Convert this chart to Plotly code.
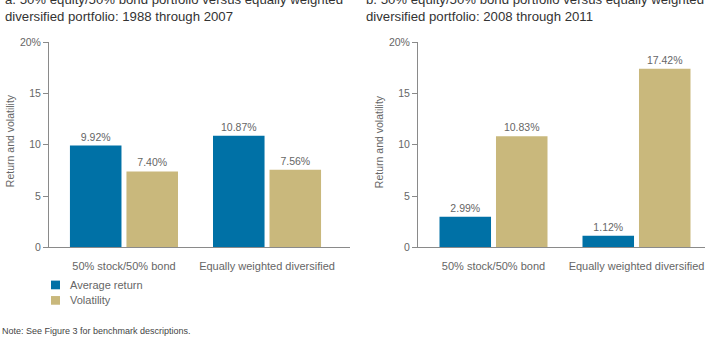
import plotly.graph_objects as go

categories = ["50% stock/50% bond", "Equally weighted diversified"]
series_names = ["Average return", "Volatility"]
return_a = [9.92, 10.87]
vol_a = [7.40, 7.56]
return_b = [2.99, 1.12]
vol_b = [10.83, 17.42]
yticks = [0, 5, 10, 15, 20]
yticklabels = ["0", "5", "10", "15", "20%"]

BLUE = "#0071A6"
TAN = "#C9B87C"
GRAY = "#666666"
AX = "#8a8a8a"
FONT = "Liberation Sans"
W, H = 710, 345

def px(x):
    return x / W

def py(y):
    return (H - y) / H

fig = go.Figure()

for vals, name, color, xa, ya in [
    (return_a, series_names[0], BLUE, "x", "y"),
    (vol_a, series_names[1], TAN, "x", "y"),
    (return_b, series_names[0], BLUE, "x2", "y2"),
    (vol_b, series_names[1], TAN, "x2", "y2"),
]:
    fig.add_trace(go.Bar(
        x=categories, y=vals, name=name, marker=dict(color=color, line=dict(width=0)),
        xaxis=xa, yaxis=ya, showlegend=False,
        text=[f"{v:.2f}%" for v in vals], textposition="outside",
        textfont=dict(size=10.5, color=GRAY, family=FONT), cliponaxis=False,
    ))

ydom = [py(250), py(37.5)]
common_y = dict(range=[0, 20], tickvals=yticks, ticktext=yticklabels, showgrid=False,
                zeroline=False, showline=True, linecolor=AX, linewidth=1,
                ticks="outside", ticklen=5, tickcolor=AX,
                tickfont=dict(size=10.5, color=GRAY, family=FONT), domain=ydom)
common_x = dict(showgrid=False, zeroline=False, showline=True, linecolor=AX, linewidth=1,
                ticks="", ticklabelstandoff=8, tickfont=dict(size=11, color=GRAY, family=FONT))

fig.update_layout(
    width=W, height=H, margin=dict(l=0, r=0, t=0, b=0),
    paper_bgcolor="white", plot_bgcolor="white",
    barmode="group", bargap=0.21, bargroupgap=0.088,
    font=dict(family=FONT, color=GRAY),
    showlegend=False,
    xaxis=dict(domain=[px(49), px(350)], range=[-0.524, 1.58], anchor="y", **common_x),
    yaxis=dict(anchor="x", **common_y),
    xaxis2=dict(domain=[px(418), px(705)], range=[-0.528, 1.479], anchor="y2", **common_x),
    yaxis2=dict(anchor="x2", **common_y),
)

# legend (drawn manually to match the reference's small swatches)
shapes = []
annos = []
for i, (name, color) in enumerate(zip(series_names, [BLUE, TAN])):
    cy = 289 + 16 * i
    shapes.append(dict(type="rect", xref="paper", yref="paper",
                       x0=px(51), x1=px(60), y0=py(cy + 4.5), y1=py(cy - 4.5),
                       fillcolor=color, line=dict(width=0)))
    annos.append(dict(x=px(68), y=py(cy), text=name, xanchor="left", yanchor="middle",
                      font=dict(size=11, color=GRAY, family=FONT)))

annos += [
    dict(x=px(3), y=py(21), text="a. 50% equity/50% bond portfolio versus equally weighted<br>diversified portfolio: 1988 through 2007",
         xanchor="left", yanchor="bottom", align="left", font=dict(size=13.2, color="#333333", family=FONT)),
    dict(x=px(364), y=py(21), text="b. 50% equity/50% bond portfolio versus equally weighted<br>diversified portfolio: 2008 through 2011",
         xanchor="left", yanchor="bottom", align="left", font=dict(size=13.2, color="#333333", family=FONT)),
    dict(x=px(10), y=py(140), text="Return and volatility", textangle=-90, xanchor="center", yanchor="middle",
         font=dict(size=10.5, color=GRAY, family=FONT)),
    dict(x=px(379), y=py(140), text="Return and volatility", textangle=-90, xanchor="center", yanchor="middle",
         font=dict(size=10.5, color=GRAY, family=FONT)),
    dict(x=px(0), y=py(337), text="Note: See Figure 3 for benchmark descriptions.", xanchor="left", yanchor="middle",
         font=dict(size=9, color="#444444", family=FONT)),
]
for a in annos:
    a.update(xref="paper", yref="paper", showarrow=False)
fig.update_layout(annotations=annos, shapes=shapes)

fig.write_html("out.html")
